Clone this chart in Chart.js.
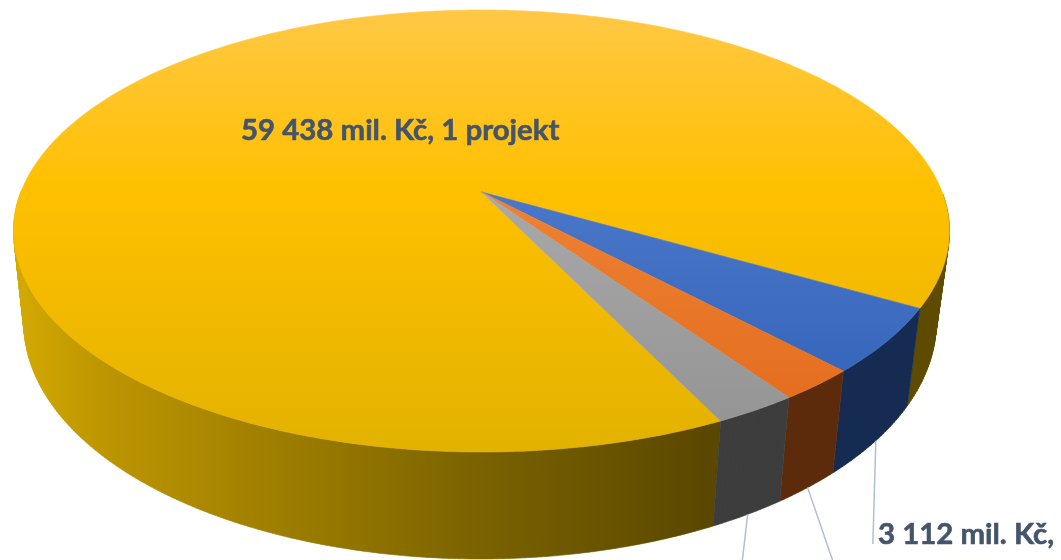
<!DOCTYPE html>
<html>
<head>
<meta charset="utf-8">
<style>
  html, body { margin: 0; padding: 0; background: #fff; overflow: hidden; }
  canvas { display: block; }
</style>
<script src="https://cdn.jsdelivr.net/npm/chart.js@4"></script>
</head>
<body>
<canvas id="pie" width="1061" height="560"></canvas>
<script>
const categories = ['1 projekt', 'Projekt B', 'Projekt C', 'Projekt D'];
const values = [59438, 3112, 1533, 1625];
const labelTexts = ['59 438 mil. Kč, 1 projekt', '3 112 mil. Kč,', '', ''];

const faceStops = [
    ['#FFC845', '#FFC000', '#E2B200'],
    ['#6F92D8', '#4A77C9', '#2E5FB5'],
    ['#F5A06A', '#EE8233', '#E2691A'],
    ['#C0C0C0', '#A9A9A9', '#929292']
];
const wallColors = [null, '#152B52', '#5C2B0B', '#3D3D3D'];

const canvas = document.getElementById('pie');
const ctx = canvas.getContext('2d');

function faceGradient(stops) {
    const g = ctx.createLinearGradient(0, 10, 0, 452);
    g.addColorStop(0, stops[0]);
    g.addColorStop(0.41, stops[1]);
    g.addColorStop(1, stops[2]);
    return g;
}

function yellowWall() {
    const g = ctx.createLinearGradient(13, 0, 949, 0);
    g.addColorStop(0, '#D4AA00');
    g.addColorStop(0.1, '#BC9500');
    g.addColorStop(0.31, '#9A7B00');
    g.addColorStop(0.5, '#7A6200');
    g.addColorStop(0.75, '#5A4700');
    g.addColorStop(1, '#5F4C00');
    return g;
}

// perspective view of the unit circle: apex of the slices sits above the ellipse centre
const cx = 481.5, persp = -0.1765, ay = 180.2, by = 192, rx = 460.6;

function topPoint(a) {
    const ux = Math.cos(a), uy = Math.sin(a);
    const w = 1 + persp * uy;
    return { x: cx + rx * ux / w, y: (ay * uy + by) / w };
}

function bottomPoint(a) {
    const p = topPoint(a);
    return { x: cx - 1.5 + (p.x - cx) * 0.975, y: p.y + 88 + 19 * Math.sin(a) };
}

function arcPoints(start, end, fn) {
    const pts = [], n = Math.max(4, Math.ceil((end - start) / 0.01));
    for (let i = 0; i <= n; i++) pts.push(fn(start + (end - start) * i / n));
    return pts;
}

function addPoly(c, pts) {
    pts.forEach((p, i) => i ? c.lineTo(p.x, p.y) : c.moveTo(p.x, p.y));
    c.closePath();
}

function paint(c, fill) {
    c.fillStyle = fill;
    c.strokeStyle = fill;
    c.lineWidth = 0.6;
    c.fill();
    c.stroke();
}

// all quads turned the same way, so one fill of the whole wall leaves no seams
function quadArea(q) {
    let s = 0;
    q.forEach((p, i) => {
        const n = q[(i + 1) % q.length];
        s += p.x * n.y - n.x * p.y;
    });
    return s;
}

const leaderEnds = [null, { dx: -3, y: 544 }, { dx: 27, y: 566 }, { dx: -6, y: 566 }];

const pie3d = {
    id: 'pie3d',
    // the library's flat arcs are replaced by the projected ones, angles taken from its elements
    beforeDatasetDraw(chart, args) {
        const c = chart.ctx;
        const arcs = args.meta.data;
        c.save();
        arcs.forEach((arc, i) => {
            const top = arcPoints(arc.startAngle, arc.endAngle, topPoint);
            const low = arcPoints(arc.startAngle, arc.endAngle, bottomPoint);
            c.beginPath();
            for (let k = 0; k < top.length - 1; k++) {
                // the back half is hidden behind the top face
                if (top[k].y < by) continue;
                const q = [top[k], top[k + 1], low[k + 1], low[k]];
                addPoly(c, quadArea(q) < 0 ? q.reverse() : q);
            }
            paint(c, wallColors[i] || yellowWall());
        });
        arcs.forEach(arc => {
            const rim = arcPoints(arc.startAngle, arc.endAngle, topPoint);
            c.beginPath();
            addPoly(c, [{ x: cx, y: by }].concat(rim));
            paint(c, arc.options.backgroundColor);
        });
        c.restore();
        return false;
    },
    afterDatasetsDraw(chart) {
        const c = chart.ctx;
        c.save();
        c.strokeStyle = '#B4BFCE';
        c.lineWidth = 1.5;
        chart.getDatasetMeta(0).data.forEach((arc, i) => {
            if (!leaderEnds[i]) return;
            const p = bottomPoint((arc.startAngle + arc.endAngle) / 2);
            c.beginPath();
            c.moveTo(p.x, p.y);
            c.lineTo(p.x + leaderEnds[i].dx, leaderEnds[i].y);
            c.stroke();
        });
        c.fillStyle = '#44546A';
        c.strokeStyle = '#44546A';
        c.lineWidth = 0.6;
        c.font = 'bold 29.4px Lato';
        c.textBaseline = 'alphabetic';
        c.fillText(labelTexts[0], 241, 140);
        c.strokeText(labelTexts[0], 241, 140);
        c.fillText(labelTexts[1], 878, 544);
        c.strokeText(labelTexts[1], 878, 544);
        c.restore();
    }
};

new Chart(canvas, {
    type: 'pie',
    data: {
        labels: categories,
        datasets: [{
            data: values,
            backgroundColor: faceStops.map(faceGradient),
            borderWidth: 0
        }]
    },
    options: {
        responsive: false,
        animation: false,
        rotation: 154.1,
        plugins: { legend: { display: false }, tooltip: { enabled: false } }
    },
    plugins: [pie3d]
});
</script>
</body>
</html>
